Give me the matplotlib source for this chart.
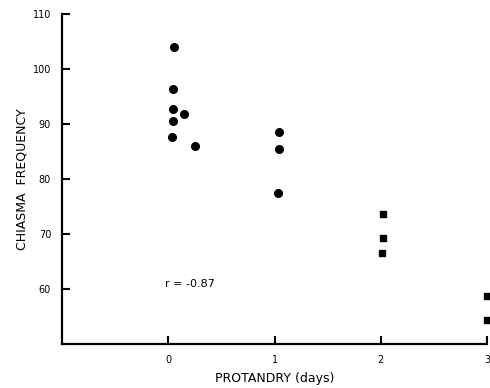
import matplotlib
matplotlib.use("Agg")
import matplotlib.pyplot as plt

# protandry (days) vs chiasma frequency
circ_x = [0.05, 0.04, 0.04, 0.15, 0.04, 0.03, 0.25, 1.04, 1.04, 1.03]
circ_y = [104.0, 96.4, 92.8, 91.9, 90.6, 87.7, 86.0, 88.6, 85.5, 77.4]
sq_x = [2.02, 2.02, 2.01, 3.0, 3.0]
sq_y = [73.7, 69.3, 66.6, 58.7, 54.3]

xticks = [0, 1, 2, 3]
yticks = [60, 70, 80, 90, 100, 110]

plt.rcParams['font.family'] = 'DejaVu Sans'

fig = plt.figure(figsize=(4.9, 3.88), dpi=100)
ax = fig.add_axes([0.127, 0.113, 0.867, 0.851])

ax.plot(circ_x, circ_y, 'o', color='black', markersize=5.5, clip_on=False)
ax.plot(sq_x, sq_y, 's', color='black', markersize=4.5, clip_on=False)

ax.set_xlim(-1, 3)
ax.set_ylim(50, 110)
ax.set_xticks(xticks)
ax.set_yticks(yticks)
ax.tick_params(direction='in', length=6, width=1.5, labelsize=7, pad=8)

for s in ['top', 'right']:
    ax.spines[s].set_visible(False)
for s in ['left', 'bottom']:
    ax.spines[s].set_linewidth(1.6)

ax.text(-0.03, 61, 'r = -0.87', fontsize=8, va='center', ha='left')

ax.set_xlabel('PROTANDRY (days)', fontsize=9, labelpad=5)
ax.set_ylabel('CHIASMA  FREQUENCY', fontsize=9, labelpad=3)

fig.savefig('out.png', dpi=100)
